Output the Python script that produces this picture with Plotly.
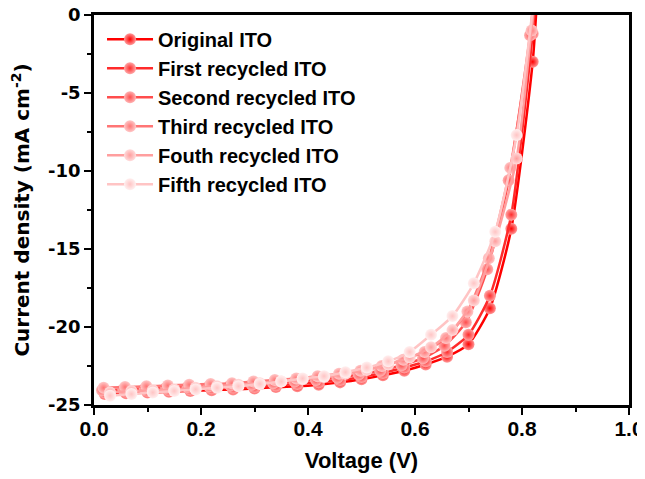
import plotly.graph_objects as go

series_names = ["Original ITO", "First recycled ITO", "Second recycled ITO",
                "Third recycled ITO", "Fouth recycled ITO", "Fifth recycled ITO"]
colors = ["#FF0000", "#FF2B2B", "#FF4D4D", "#FF7575", "#FF9E9E", "#FFC4C4"]
highlights = ["#FF9A9A", "#FFA8A8", "#FFB4B4", "#FFC8C8", "#FFDCDC", "#FFF0F0"]

v_original = [0.02, 0.06, 0.10, 0.14, 0.18, 0.22, 0.26, 0.30, 0.34, 0.38, 0.42,
              0.46, 0.50, 0.54, 0.58, 0.62, 0.66, 0.70, 0.74, 0.78, 0.82, 0.828]
j_original = [-24.3, -24.25, -24.2, -24.15, -24.1, -24.05, -24.0, -23.95, -23.85, -23.8, -23.7,
              -23.55, -23.35, -23.1, -22.8, -22.4, -21.9, -21.1, -18.8, -13.7, -3.0, 1.0]

v_first = [0.02, 0.06, 0.10, 0.14, 0.18, 0.22, 0.26, 0.30, 0.34, 0.38, 0.42,
           0.46, 0.50, 0.54, 0.58, 0.62, 0.66, 0.70, 0.74, 0.78, 0.82, 0.825]
j_first = [-24.2, -24.15, -24.1, -24.05, -24.0, -23.95, -23.9, -23.85, -23.75, -23.65, -23.55,
           -23.4, -23.2, -22.95, -22.6, -22.2, -21.6, -20.5, -18.0, -12.8, -1.2, 1.0]

v_second = [0.015, 0.055, 0.095, 0.135, 0.175, 0.215, 0.255, 0.295, 0.335, 0.375, 0.415,
            0.455, 0.495, 0.535, 0.575, 0.615, 0.655, 0.695, 0.735, 0.775, 0.815, 0.822]
j_second = [-24.05, -24.0, -23.95, -23.9, -23.85, -23.8, -23.75, -23.7, -23.6, -23.5, -23.4,
            -23.25, -23.05, -22.8, -22.45, -22.0, -21.2, -19.7, -16.3, -10.6, -1.3, 1.0]

v_third = [0.018, 0.058, 0.098, 0.138, 0.178, 0.218, 0.258, 0.298, 0.338, 0.378, 0.418,
           0.458, 0.498, 0.538, 0.578, 0.618, 0.658, 0.698, 0.738, 0.778, 0.818, 0.824]
j_third = [-23.9, -23.85, -23.8, -23.75, -23.7, -23.65, -23.6, -23.5, -23.4, -23.3, -23.15,
           -23.0, -22.8, -22.5, -22.1, -21.6, -20.7, -19.0, -15.6, -9.8, -1.0, 1.0]

v_fourth = [0.03, 0.07, 0.11, 0.15, 0.19, 0.23, 0.27, 0.31, 0.35, 0.39, 0.43,
            0.47, 0.51, 0.55, 0.59, 0.63, 0.67, 0.71, 0.75, 0.79, 0.823]
j_fourth = [-24.2, -24.1, -24.05, -24.0, -23.9, -23.8, -23.7, -23.6, -23.5, -23.35, -23.2,
            -23.0, -22.75, -22.4, -21.95, -21.3, -20.2, -18.3, -14.5, -9.2, 1.0]

v_fifth = [0.03, 0.07, 0.11, 0.15, 0.19, 0.23, 0.27, 0.31, 0.35, 0.39, 0.43,
           0.47, 0.51, 0.55, 0.59, 0.63, 0.67, 0.71, 0.75, 0.79, 0.822]
j_fifth = [-24.4, -24.3, -24.2, -24.1, -24.0, -23.9, -23.8, -23.65, -23.5, -23.3, -23.15,
           -22.9, -22.6, -22.2, -21.6, -20.5, -19.3, -17.2, -13.9, -7.7, 1.0]

x_ticks = [0.0, 0.2, 0.4, 0.6, 0.8, 1.0]
x_ticklabels = ["0.0", "0.2", "0.4", "0.6", "0.8", "1.0"]
y_ticks = [0, -5, -10, -15, -20, -25]
y_ticklabels = ["0", "-5", "-10", "-15", "-20", "-25"]

voltages = [v_original, v_first, v_second, v_third, v_fourth, v_fifth]
currents = [j_original, j_first, j_second, j_third, j_fourth, j_fifth]

FONT = "Liberation Sans"
WIDE = "DejaVu Sans"

fig = go.Figure()
for i, name in enumerate(series_names):
    fig.add_trace(go.Scatter(
        x=voltages[i], y=currents[i], name=name, mode="lines+markers",
        line=dict(color=colors[i], width=2.5, shape="spline", smoothing=0.6),
        marker=dict(size=12, color=highlights[i],
                    gradient=dict(type="radial", color=colors[i]),
                    line=dict(width=0)),
    ))

axis_common = dict(
    showline=True, linecolor="black", linewidth=2.5, mirror=True,
    ticks="outside", ticklen=7, tickwidth=2, tickcolor="black",
    showgrid=False, zeroline=False, automargin=False,
    ticklabeloverflow="allow",
)

fig.update_xaxes(
    range=[0, 1.0], tickvals=x_ticks, ticktext=x_ticklabels,
    tickfont=dict(family=FONT, size=21, color="black", weight="bold"),
    ticklabelstandoff=-4,
    minor=dict(ticks="outside", ticklen=4, tickwidth=2, tickcolor="black", dtick=0.1, showgrid=False),
    title=dict(text="Voltage (V)", font=dict(family=FONT, size=22, color="black", weight="bold"),
               standoff=14),
    **axis_common)
fig.update_yaxes(
    range=[-25, 0], tickvals=y_ticks, ticktext=y_ticklabels,
    tickfont=dict(family=WIDE, size=18, color="black", weight="bold"),
    minor=dict(ticks="outside", ticklen=4, tickwidth=2, tickcolor="black", dtick=2.5, showgrid=False),
    title=dict(text="Current density (mA cm<sup>-2</sup>)", font=dict(family=WIDE, size=20, color="black", weight="bold")),
    **axis_common)

fig.update_layout(
    width=637, height=471,
    margin=dict(l=86, r=16, t=7, b=74),
    paper_bgcolor="white", plot_bgcolor="white",
    showlegend=True,
    legend=dict(x=0.015, y=0.988, xanchor="left", yanchor="top",
                bgcolor="rgba(0,0,0,0)",
                font=dict(family=FONT, size=20, color="black", weight="bold"),
                tracegroupgap=0, itemwidth=46),
)

fig.write_html("out.html")
